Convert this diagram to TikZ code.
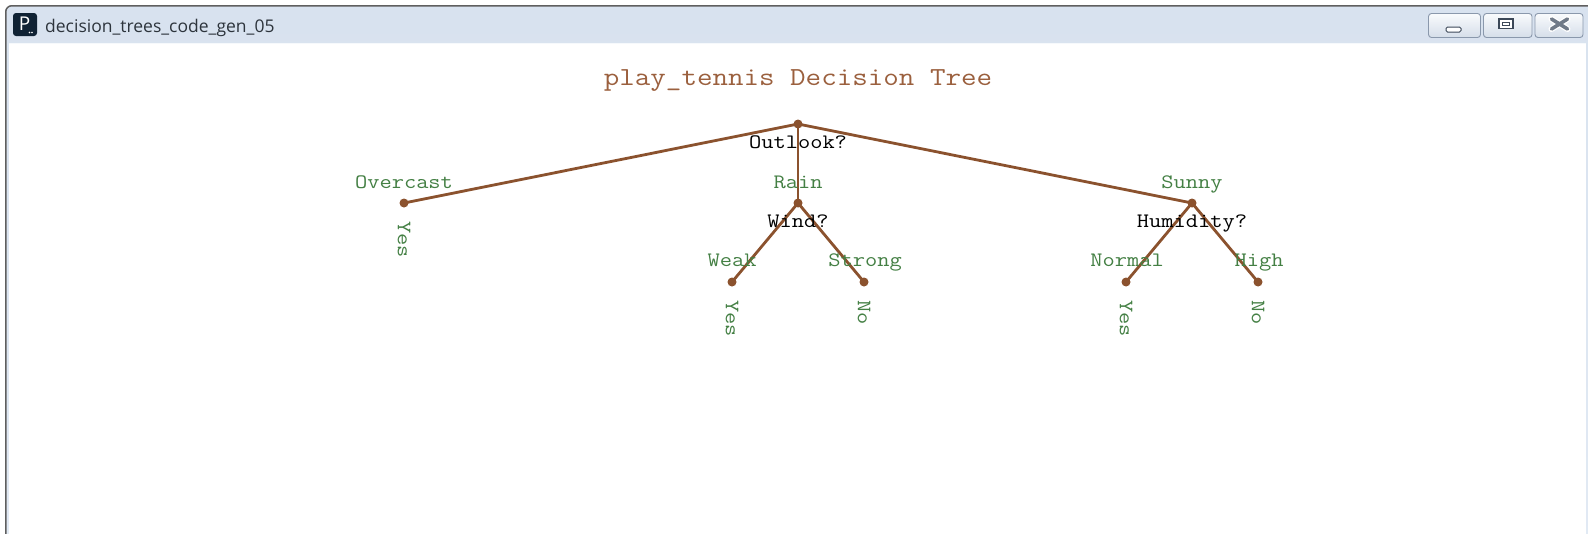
\documentclass[tikz,border=0pt]{standalone}
\usepackage{fontspec}
\newfontfamily\codefont{Latin Modern Mono}[FakeStretch=1.16]
\newfontfamily\uifont{Open Sans}
\definecolor{edgebrown}{RGB}{139,82,46}
\definecolor{titlebrown}{RGB}{155,96,62}
\definecolor{labelgreen}{RGB}{68,128,68}
\definecolor{framedark}{RGB}{95,95,95}
\definecolor{barlight}{RGB}{226,234,244}
\definecolor{bartop}{RGB}{216,226,239}
\definecolor{btnedge}{RGB}{138,152,172}
\definecolor{glyphdark}{RGB}{60,72,88}
\definecolor{glyphgrey}{RGB}{112,122,136}
\definecolor{iconnavy}{RGB}{16,34,52}
\definecolor{captiontext}{RGB}{45,52,60}
\tikzset{
  winbtn/.style={draw=btnedge, line width=0.9pt, rounded corners=3pt,
    top color=white!80!barlight, bottom color=barlight!85!btnedge},
  branch/.style={draw=edgebrown, line width=2.8pt},
  treept/.style={circle, fill=edgebrown, inner sep=0pt, minimum size=9pt},
  question/.style={font=\codefont\fontsize{20.5}{24}\selectfont, text=black,
    anchor=base, inner sep=0pt},
  answer/.style={font=\codefont\fontsize{20.5}{24}\selectfont, text=labelgreen,
    anchor=base, inner sep=0pt},
  leaf/.style={font=\codefont\fontsize{20.5}{24}\selectfont, text=labelgreen,
    anchor=west, rotate=-90, inner sep=0pt}
}
\begin{document}
\begin{tikzpicture}[x=1pt,y=-1pt]
\useasboundingbox (0,0) rectangle (1588,533);
\fill[white] (0,0) rectangle (1588,533);

% window frame and caption bar
\draw[framedark, line width=1.5pt, rounded corners=6pt, top color=bartop, bottom color=barlight]
  (5.75,5.75) rectangle (1600,560);
\fill[white] (9,43.5) rectangle (1586,540);
\draw[white!70!barlight, line width=0.8pt] (9,43.5) -- (1586,43.5);

% application icon
\node[fill=iconnavy, rounded corners=3pt, minimum width=24pt, minimum height=23pt,
  inner sep=0pt] (appicon) at (25,24.5) {};
\node[text=white, font=\uifont\fontsize{19}{19}\selectfont, inner sep=0pt]
  (iconletter) at (24.5,24) {P};
\fill[white] (29.5,32.5) circle (0.9) (32,32.5) circle (0.9);

% caption
\node[anchor=base west, inner sep=0pt, text=captiontext,
  font=\uifont\fontsize{17.5}{20}\selectfont] (caption) at (45,32.5)
  {decision\_trees\_code\_gen\_05};

% caption buttons
\path[winbtn] (1428.5,13.5) rectangle (1480.5,37.5);
\path[winbtn] (1483.5,13.5) rectangle (1532,37.5);
\path[winbtn] (1535,13.5) rectangle (1583,37.5);
\draw[glyphdark, fill=white, line width=1pt, rounded corners=1.5pt]
  (1446,27) rectangle (1461,32);
\draw[glyphdark, fill=white, line width=1.4pt] (1499,19) rectangle (1513,28.5);
\draw[glyphdark, line width=0.8pt] (1502.5,22.5) rectangle (1509.5,25);
\draw[white, line width=6pt, line cap=round] (1551.5,19) -- (1567.5,29) (1551.5,29) -- (1567.5,19);
\draw[glyphgrey, line width=3.6pt, line cap=round] (1551.5,19) -- (1567.5,29) (1551.5,29) -- (1567.5,19);

% title
\node[text=titlebrown, font=\codefont\fontsize{26}{30}\selectfont, anchor=base,
  inner sep=0pt] (title) at (798,85) {play\_tennis Decision Tree};

% tree points
\node[treept] (root)   at (798,124) {};
\node[treept] (over)   at (404,203) {};
\node[treept] (rain)   at (798,203) {};
\node[treept] (sunny)  at (1192,203) {};
\node[treept] (weak)   at (732,282) {};
\node[treept] (strong) at (864,282) {};
\node[treept] (normal) at (1126,282) {};
\node[treept] (high)   at (1258,282) {};

% branches
\draw[branch] (root.center) -- (over.center);
\draw[branch] (root.center) -- (rain.center);
\draw[branch] (root.center) -- (sunny.center);
\draw[branch] (rain.center) -- (weak.center);
\draw[branch] (rain.center) -- (strong.center);
\draw[branch] (sunny.center) -- (normal.center);
\draw[branch] (sunny.center) -- (high.center);

% split questions
\node[question] (qoutlook)  at (798,148) {Outlook?};
\node[question] (qwind)     at (798,227) {Wind?};
\node[question] (qhumidity) at (1192,227) {Humidity?};

% branch values
\node[answer] (aover)   at (404,188)  {Overcast};
\node[answer] (arain)   at (798,188)  {Rain};
\node[answer] (asunny)  at (1192,188) {Sunny};
\node[answer] (aweak)   at (732,266)  {Weak};
\node[answer] (astrong) at (865,266)  {Strong};
\node[answer] (anormal) at (1127,266) {Normal};
\node[answer] (ahigh)   at (1259,266) {High};

% leaf decisions
\node[leaf] (lover)   at (404,221)  {Yes};
\node[leaf] (lweak)   at (732,300)  {Yes};
\node[leaf] (lstrong) at (864,300)  {No};
\node[leaf] (lnormal) at (1126,300) {Yes};
\node[leaf] (lhigh)   at (1258,300) {No};
\end{tikzpicture}
\end{document}
